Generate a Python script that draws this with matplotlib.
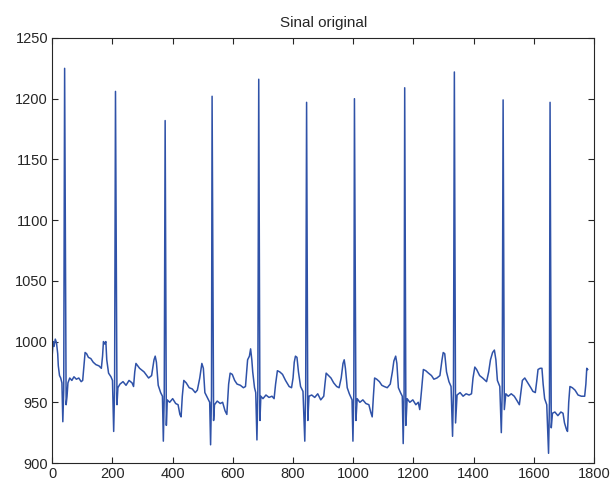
import matplotlib
matplotlib.use('Agg')
import matplotlib.pyplot as plt

# amostras (indice, valor)
amostra = [0, 3, 6, 10, 14, 18, 20, 24, 28, 32, 35, 38, 41, 46, 49, 52, 58, 65, 72, 80, 88, 96,
           101, 105, 109, 114, 120, 128, 136, 145, 155, 163, 167, 170, 174, 178, 181, 187, 195,
           200, 204, 207, 210, 215, 218, 225, 235, 245, 255, 265, 270, 274, 278, 290, 305, 320,
           330, 338, 342, 346, 352, 360, 366, 369, 372, 375, 379, 382, 390, 400, 410, 418, 424,
           428, 432, 437, 445, 455, 465, 475, 482, 490, 497, 502, 507, 515, 523, 526, 529, 531,
           536, 539, 548, 558, 566, 574, 580, 586, 591, 598, 606, 614, 625, 635, 642, 646, 649,
           655, 659, 663, 666, 672, 676, 680, 683, 686, 690, 693, 700, 710, 720, 730, 737, 742,
           748, 756, 765, 775, 787, 795, 800, 804, 808, 813, 818, 825, 833, 839, 842, 845, 849,
           853, 862, 872, 882, 892, 902, 906, 910, 918, 926, 935, 945, 953, 960, 966, 970, 974,
           980, 987, 996, 999, 1002, 1004, 1009, 1013, 1022, 1032, 1042, 1052, 1058, 1063, 1067,
           1071, 1078, 1087, 1095, 1103, 1113, 1123, 1130, 1135, 1141, 1145, 1150, 1157, 1163,
           1166, 1169, 1171, 1175, 1179, 1188, 1198, 1208, 1216, 1221, 1227, 1233, 1241, 1250,
           1260, 1268, 1278, 1288, 1295, 1299, 1304, 1310, 1318, 1325, 1330, 1333, 1336, 1340,
           1345, 1355, 1365, 1375, 1385, 1393, 1398, 1404, 1410, 1420, 1430, 1443, 1450, 1456,
           1463, 1469, 1474, 1479, 1487, 1492, 1495, 1498, 1502, 1507, 1515, 1525, 1535, 1545,
           1552, 1557, 1562, 1570, 1580, 1590, 1597, 1605, 1610, 1614, 1621, 1627, 1631, 1636,
           1643, 1649, 1652, 1654, 1658, 1662, 1670, 1680, 1690, 1697, 1702, 1708, 1712, 1716,
           1720, 1728, 1737, 1747, 1758, 1769, 1773, 1776, 1779]

sinal = [990, 1000, 996, 1002, 999, 990, 980, 972, 970, 966, 934, 960, 1225, 948, 955, 966, 970,
         968, 971, 969, 970, 967, 968, 980, 991, 990, 987, 986, 983, 981, 980, 978, 988, 1000,
         998, 1000, 985, 974, 971, 968, 926, 960, 1206, 948, 962, 965, 967, 964, 968, 966, 963,
         975, 982, 978, 975, 970, 972, 985, 988, 983, 964, 958, 955, 918, 955, 1182, 931, 952,
         950, 953, 949, 948, 940, 938, 955, 968, 966, 962, 961, 958, 960, 970, 982, 978, 958,
         954, 950, 915, 955, 1202, 935, 948, 951, 949, 950, 943, 940, 965, 974, 973, 968, 965,
         964, 962, 963, 975, 985, 988, 994, 985, 975, 962, 958, 919, 960, 1216, 935, 955, 953,
         956, 954, 955, 953, 965, 976, 975, 973, 968, 963, 962, 970, 983, 988, 987, 975, 963,
         959, 918, 960, 1197, 935, 955, 956, 954, 957, 952, 955, 965, 974, 972, 970, 966, 963,
         962, 970, 982, 985, 978, 962, 957, 952, 918, 960, 1200, 935, 953, 950, 952, 949, 948,
         942, 938, 955, 970, 969, 967, 964, 963, 962, 965, 975, 984, 988, 982, 962, 958, 955,
         916, 958, 1209, 931, 953, 950, 952, 948, 950, 944, 960, 977, 976, 974, 972, 969, 970,
         972, 985, 991, 990, 975, 967, 963, 922, 960, 1222, 933, 956, 958, 955, 957, 956, 957,
         970, 979, 977, 972, 970, 967, 975, 985, 991, 993, 985, 968, 963, 925, 960, 1199, 944,
         957, 955, 957, 955, 951, 948, 958, 968, 970, 966, 962, 959, 958, 968, 977, 978, 978,
         965, 953, 948, 908, 950, 1197, 929, 941, 942, 939, 942, 941, 933, 928, 926, 950, 963,
         962, 960, 956, 955, 955, 965, 978, 977]

fig = plt.figure(figsize=(6.13, 4.88), dpi=100)
ax = fig.add_axes([0.0853, 0.0512, 0.8837, 0.871])
ax.plot(amostra, sinal, color='#2f52a8', linewidth=1.1)

ax.set_xlim(0, 1800)
ax.set_ylim(900, 1250)
ax.set_xticks(range(0, 1801, 200))
ax.set_yticks(range(900, 1251, 50))
ax.tick_params(direction='in', top=True, right=True, length=4, width=0.8,
               labelsize=10.5, pad=3, colors='#262626')
for lab in ax.get_xticklabels() + ax.get_yticklabels():
    lab.set_family('Liberation Sans')
for s in ax.spines.values():
    s.set_linewidth(0.8)
    s.set_color('#262626')
ax.set_title('Sinal original', fontsize=11, family='Liberation Sans', pad=8, color='#262626')

fig.savefig('out.png', dpi=100)
